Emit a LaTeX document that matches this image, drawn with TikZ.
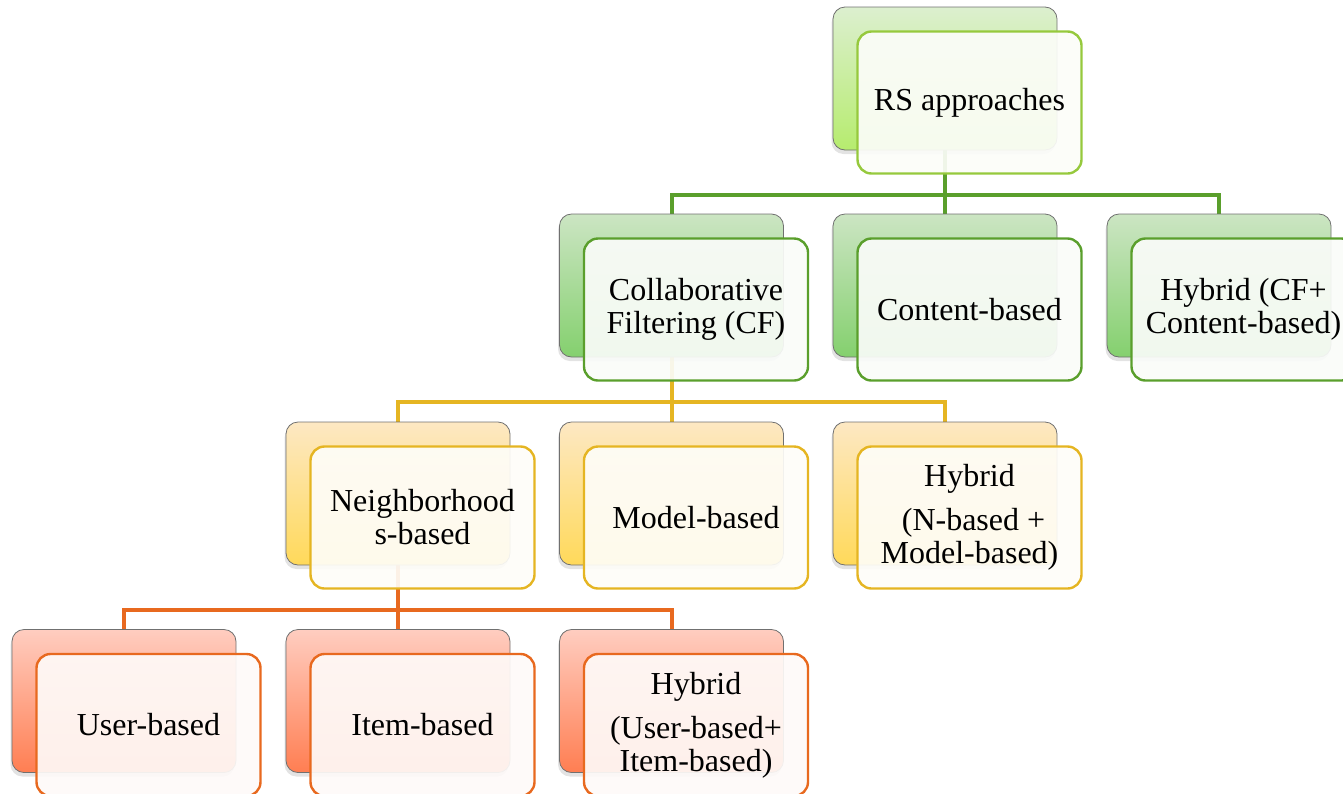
\documentclass[tikz,border=0pt]{standalone}
\usepackage{fontspec}
\setmainfont{Liberation Serif}
\usetikzlibrary{shadows,backgrounds}
\definecolor{edgegray}{HTML}{707070}
\definecolor{lv0Top}{HTML}{DCEFCF}
\definecolor{lv0Bot}{HTML}{B6EC6E}
\definecolor{lv0Line}{HTML}{96C93D}
\definecolor{lv1Top}{HTML}{CCE5C3}
\definecolor{lv1Bot}{HTML}{84D06E}
\definecolor{lv1Line}{HTML}{5A9F2C}
\definecolor{lv2Top}{HTML}{FDE8C3}
\definecolor{lv2Bot}{HTML}{FFD95A}
\definecolor{lv2Line}{HTML}{E5B522}
\definecolor{lv3Top}{HTML}{FFCDC0}
\definecolor{lv3Bot}{HTML}{FF7E52}
\definecolor{lv3Line}{HTML}{E8691F}
\begin{document}
\begin{tikzpicture}[x=1pt,y=-1pt,
  backbox/.style={draw=edgegray,line width=0.8pt,rounded corners=12pt,
    minimum width=224pt,minimum height=143pt,top color=#1Top,bottom color=#1Bot,
    drop shadow={opacity=0.22,shadow xshift=-1.5pt,shadow yshift=-4pt}},
  frontbox/.style={draw=#1Line,line width=2.4pt,rounded corners=14pt,
    minimum width=224pt,minimum height=142pt,fill=#1Line!3!white,
    fill opacity=0.92,text opacity=1,align=center,
    font=\fontsize{32}{33}\selectfont},
  bus/.style={draw=#1Line,line width=4pt}]
 \useasboundingbox (0,0) rectangle (1343,793);
 \clip (0,0) rectangle (1343,793);
 % boxes: back card, then the framed card with the text
 \foreach \n/\x/\y/\c/\t in {
   rs/945/78.5/lv0/{RS approaches},
   cf/671.5/285.5/lv1/{Collaborative\\Filtering (CF)},
   cb/945/285.5/lv1/{Content-based},
   hc/1219/285.5/lv1/{Hybrid (CF+\\Content-based)},
   nb/398/493.5/lv2/{Neighborhood\\s-based},
   mb/671.5/493.5/lv2/{Model-based},
   hn/945/493.5/lv2/{Hybrid\\[11pt]\ (N-based +\\Model-based)},
   ub/124/701/lv3/{User-based},
   ib/398/701/lv3/{Item-based},
   hu/671.5/701/lv3/{Hybrid\\[11pt](User-based+\\Item-based)}}{
   \node[backbox=\c] (\n-bk) at (\x,\y) {};
   \node[frontbox=\c] (\n) at (\x+24.5,\y+24) {\t};
 }
 % tree lines
 \begin{pgfonlayer}{background}
 \foreach \p/\q/\l in {rs/cf/lv1,rs/cb/lv1,rs/hc/lv1,
                       cf/nb/lv2,cf/mb/lv2,cf/hn/lv2,
                       nb/ub/lv3,nb/ib/lv3,nb/hu/lv3}
   \draw[bus=\l] (\p-bk.south) -- ++(0,45) -| (\q-bk.north);
 \end{pgfonlayer}
\end{tikzpicture}
\end{document}
